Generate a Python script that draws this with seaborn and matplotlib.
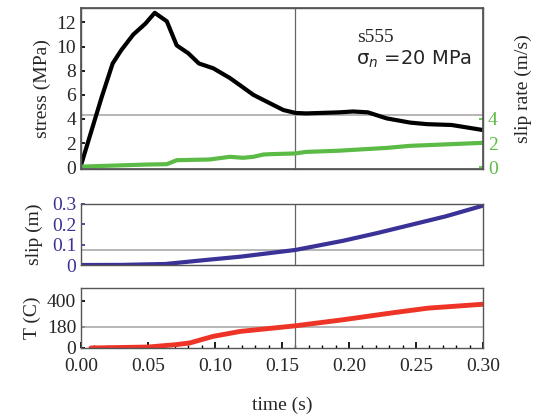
import numpy as np
import pandas as pd
import seaborn as sns
import matplotlib.pyplot as plt
from matplotlib.ticker import MultipleLocator

# stress (MPa) vs time (s)
t_stress = [0.0, 0.008, 0.0154, 0.0236, 0.030, 0.039, 0.048, 0.055, 0.064, 0.0714,
            0.080, 0.088, 0.0987, 0.111, 0.1186, 0.1286, 0.141, 0.151, 0.160, 0.168,
            0.193, 0.203, 0.214, 0.228, 0.2455, 0.258, 0.2765, 0.285, 0.300]
stress = [0.17, 3.1, 5.8, 8.6, 9.7, 11.0, 11.9, 12.8, 12.1, 10.1,
          9.45, 8.6, 8.2, 7.4, 6.8, 6.0, 5.3, 4.74, 4.5, 4.46,
          4.55, 4.62, 4.55, 4.05, 3.7, 3.57, 3.5, 3.35, 3.08]

# slip rate (m/s)
t_rate = [0.0, 0.049, 0.064, 0.0714, 0.096, 0.111, 0.121, 0.1286, 0.136, 0.141,
          0.160, 0.168, 0.191, 0.228, 0.2455, 0.300]
rate = [0.05, 0.22, 0.25, 0.58, 0.64, 0.86, 0.78, 0.86, 1.05, 1.08,
        1.14, 1.27, 1.36, 1.6, 1.77, 2.02]

# slip (m)
t_slip = [0.0, 0.03, 0.063, 0.0935, 0.119, 0.160, 0.1955, 0.221, 0.2465, 0.272, 0.300]
slip = [0.0, 0.0005, 0.005, 0.025, 0.041, 0.074, 0.119, 0.157, 0.198, 0.239, 0.292]

# temperature (C)
t_temp = [0.0074, 0.050, 0.0706, 0.081, 0.0986, 0.119, 0.160, 0.1955, 0.234, 0.259, 0.300]
temp = [0, 8, 28, 42, 98, 140, 187, 238, 299, 336, 369]

t_cursor = 0.16

sns.set_theme(style='ticks')
plt.rcParams['font.family'] = ['Liberation Serif', 'DejaVu Serif']
plt.rcParams['mathtext.fontset'] = 'dejavusans'
plt.rcParams['xtick.direction'] = 'in'
plt.rcParams['ytick.direction'] = 'in'

fig = plt.figure(figsize=(5.38, 4.17), dpi=100)
ax1 = fig.add_axes([0.1506, 0.5947, 0.7472, 0.3861])
ax2 = fig.add_axes([0.1506, 0.3645, 0.7472, 0.1463])
ax3 = fig.add_axes([0.1506, 0.1655, 0.7472, 0.1439])

spine_col = '#555555'
blue = '#3a3296'
green = '#5cbb46'
red = '#ee3327'
fs = 14

for ax in (ax1, ax2, ax3):
    for s in ax.spines.values():
        s.set_color(spine_col)
        s.set_linewidth(1.0)
    ax.set_xlim(0, 0.3)
    ax.axvline(t_cursor, color='#666666', lw=0.9, zorder=1)

# stress panel
df1 = pd.DataFrame({'t': t_stress, 's': stress})
sns.lineplot(data=df1, x='t', y='s', ax=ax1, color='black', lw=3, sort=False, estimator=None)
df_r = pd.DataFrame({'t': t_rate, 'v': rate})
sns.lineplot(data=df_r, x='t', y='v', ax=ax1, color=green, lw=3, sort=False, estimator=None)
ax1.axhline(4.32, color='#aaaaaa', lw=1.2, zorder=1)
ax1.set_ylim(-0.15, 13.2)
ax1.set_yticks(range(0, 13, 2))
ax1.set_xticks([])
ax1.set_xlabel('')
ax1.set_ylabel('stress (MPa)', fontsize=fs)
ax1.tick_params(axis='y', labelsize=fs, length=3, color='black')
ax1.text(0.687, 0.79, 's555', transform=ax1.transAxes, fontsize=fs)
ax1.text(0.683, 0.65, 'σ$_n$ =20 MPa', transform=ax1.transAxes, fontsize=fs,
         family='DejaVu Sans')

axr = ax1.twinx()
axr.set_ylim(-0.15, 13.2)
axr.set_yticks([0, 2, 4])
axr.tick_params(axis='y', labelsize=fs, length=3, color=green, labelcolor=green)
axr.set_ylabel('slip rate (m/s)', fontsize=fs, labelpad=12)
for s in axr.spines.values():
    s.set_color(spine_col)

# slip panel
df2 = pd.DataFrame({'t': t_slip, 'd': slip})
sns.lineplot(data=df2, x='t', y='d', ax=ax2, color=blue, lw=3, sort=False, estimator=None)
ax2.axhline(0.074, color='#aaaaaa', lw=1.2, zorder=1)
ax2.set_ylim(0, 0.3)
ax2.set_yticks([0, 0.1, 0.2, 0.3])
ax2.set_yticklabels(['0', '0.1', '0.2', '0.3'])
ax2.set_xticks([])
ax2.set_xlabel('')
ax2.set_ylabel('slip (m)', fontsize=fs, labelpad=6)
ax2.tick_params(axis='y', labelsize=fs, length=3, color=blue, labelcolor=blue)

# temperature panel
df3 = pd.DataFrame({'t': t_temp, 'T': temp})
sns.lineplot(data=df3, x='t', y='T', ax=ax3, color=red, lw=3.5, sort=False, estimator=None)
ax3.axhline(180, color='#aaaaaa', lw=1.2, zorder=1)
ax3.set_ylim(0, 506)
ax3.set_yticks([0, 180, 400])
ax3.xaxis.set_major_locator(MultipleLocator(0.05))
ax3.xaxis.set_minor_locator(MultipleLocator(0.01))
ax3.xaxis.set_major_formatter(plt.FormatStrFormatter('%.2f'))
ax3.tick_params(axis='x', which='major', labelsize=fs, length=4, color='black', pad=7)
ax3.tick_params(axis='x', which='minor', length=2.5, color='black')
ax3.tick_params(axis='y', labelsize=fs, length=3, color='black')
ax3.set_ylabel('T (C)', fontsize=fs)
ax3.set_xlabel('time (s)', fontsize=fs, labelpad=16)

fig.align_ylabels([ax1, ax2, ax3])
fig.savefig('out.png', dpi=100)
